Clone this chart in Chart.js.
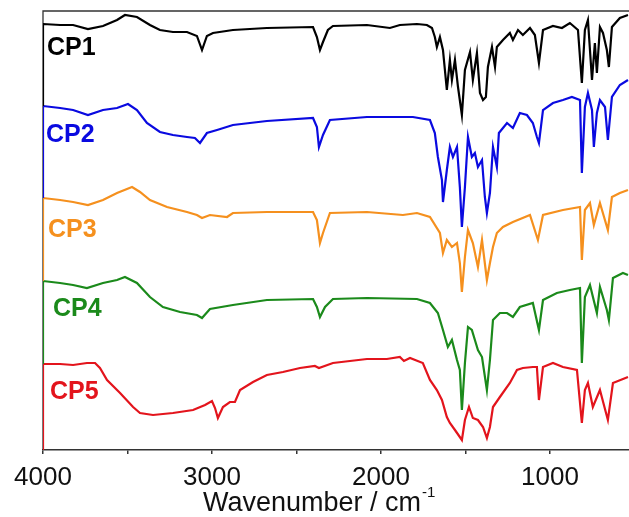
<!DOCTYPE html>
<html>
<head>
<meta charset="utf-8">
<script src="https://cdn.jsdelivr.net/npm/chart.js@4.4.1/dist/chart.umd.min.js"></script>
<style>
  html, body { margin: 0; padding: 0; background: #fff; }
  #wrap { position: relative; width: 629px; height: 517px; }
</style>
</head>
<body>
<div id="wrap"><canvas id="ftir"></canvas></div>
<script>
// ===== Spectra (offset traces, arbitrary units) =====
// each trace starts with a short drop at 4000 down to the next trace's level
const seriesNames = ['CP1', 'CP2', 'CP3', 'CP4', 'CP5'];
const seriesColors = ['#000000', '#0a0ae0', '#f5901e', '#1b8a1b', '#e3141c'];

const cp1Wn = [4000, 4000, 3899, 3822, 3734, 3645, 3562, 3515, 3444, 3367, 3308, 3231, 3148, 3089, 3059, 3030, 2994, 2876, 2675, 2402, 2379, 2361, 2343, 2314, 2284, 2083, 1947, 1888, 1787, 1728, 1698, 1681, 1669, 1651, 1633, 1610, 1592, 1580, 1562, 1544, 1521, 1503, 1473, 1456, 1432, 1414, 1396, 1379, 1367, 1343, 1325, 1314, 1278, 1237, 1219, 1189, 1160, 1118, 1089, 1065, 1041, 982, 929, 882, 834, 811, 793, 775, 751, 734, 722, 704, 686, 663, 651, 633, 586, 538];
const cp1T = [344, 426, 425, 425, 421, 424, 430, 435, 433, 425, 420, 418, 418, 414, 400, 414, 417, 420, 422, 423, 413, 400, 408, 420, 424, 425, 422, 425, 426, 425, 422, 413, 403, 413, 400, 360, 390, 370, 390, 363, 335, 380, 398, 370, 397, 357, 350, 353, 383, 403, 383, 403, 410, 417, 410, 420, 415, 422, 415, 387, 420, 424, 422, 427, 420, 367, 420, 430, 370, 407, 377, 423, 417, 400, 383, 423, 432, 435];

const cp2Wn = [4000, 4000, 3899, 3822, 3734, 3645, 3562, 3497, 3444, 3385, 3308, 3231, 3148, 3101, 3071, 3030, 2970, 2876, 2675, 2402, 2379, 2367, 2343, 2302, 2083, 1811, 1710, 1681, 1663, 1639, 1633, 1610, 1592, 1574, 1550, 1533, 1521, 1503, 1485, 1462, 1444, 1426, 1402, 1385, 1373, 1355, 1337, 1314, 1302, 1254, 1219, 1178, 1136, 1101, 1077, 1065, 1041, 982, 923, 870, 822, 811, 793, 775, 751, 740, 722, 704, 674, 657, 633, 586, 538];
const cp2T = [252, 344, 342, 340, 335, 340, 342, 346, 340, 327, 318, 315, 313, 312, 307, 317, 320, 325, 329, 332, 323, 303, 315, 330, 333, 333, 330, 317, 293, 270, 248, 280, 303, 293, 303, 263, 223, 263, 313, 293, 297, 283, 290, 253, 237, 257, 303, 283, 317, 327, 322, 337, 335, 327, 313, 307, 340, 347, 350, 353, 350, 277, 343, 357, 340, 303, 337, 350, 343, 310, 353, 365, 370];

const cp3Wn = [4000, 4000, 3899, 3822, 3734, 3645, 3562, 3473, 3426, 3367, 3266, 3148, 3089, 3059, 3012, 2911, 2876, 2675, 2402, 2379, 2361, 2343, 2302, 2083, 1870, 1787, 1710, 1651, 1633, 1610, 1580, 1550, 1533, 1521, 1503, 1485, 1456, 1426, 1402, 1373, 1355, 1337, 1314, 1278, 1219, 1118, 1071, 1041, 923, 822, 811, 793, 763, 740, 704, 657, 633, 586, 538];
const cp3T = [169, 252, 250, 248, 245, 250, 257, 263, 258, 250, 243, 238, 235, 232, 235, 233, 237, 238, 238, 230, 207, 217, 237, 238, 235, 237, 233, 217, 197, 210, 203, 207, 187, 158, 193, 220, 207, 183, 210, 170, 187, 203, 217, 223, 228, 235, 210, 235, 240, 243, 190, 240, 247, 225, 247, 220, 253, 257, 260];

const cp4Wn = [4000, 4000, 3899, 3822, 3740, 3645, 3562, 3515, 3444, 3367, 3290, 3189, 3089, 3059, 3012, 2876, 2675, 2402, 2379, 2361, 2331, 2284, 2083, 1787, 1710, 1663, 1633, 1604, 1580, 1550, 1533, 1521, 1503, 1485, 1462, 1444, 1426, 1402, 1373, 1355, 1337, 1296, 1254, 1219, 1178, 1101, 1065, 1041, 959, 882, 822, 811, 793, 763, 722, 704, 663, 651, 627, 568, 538];
const cp4T = [86, 169, 167, 165, 162, 167, 170, 173, 167, 153, 143, 138, 135, 132, 141, 145, 150, 151, 143, 133, 143, 151, 152, 151, 147, 137, 120, 103, 110, 90, 80, 40, 87, 123, 120, 110, 100, 93, 60, 90, 130, 137, 137, 133, 143, 147, 120, 150, 157, 160, 162, 87, 153, 165, 137, 163, 140, 130, 172, 177, 175];

const cp5Wn = [4000, 4000, 3899, 3822, 3740, 3692, 3663, 3621, 3544, 3467, 3426, 3349, 3231, 3112, 3041, 3000, 2982, 2965, 2935, 2894, 2864, 2834, 2757, 2675, 2580, 2479, 2391, 2367, 2284, 2083, 1965, 1888, 1864, 1828, 1752, 1710, 1669, 1639, 1610, 1592, 1562, 1521, 1503, 1479, 1456, 1426, 1396, 1373, 1355, 1337, 1296, 1237, 1195, 1160, 1101, 1077, 1065, 1041, 982, 923, 840, 811, 793, 775, 746, 704, 657, 627, 538];
const cp5T = [0, 86, 86, 85, 87, 87, 82, 70, 57, 43, 37, 35, 37, 40, 45, 49, 42, 32, 43, 48, 48, 60, 68, 75, 78, 82, 84, 82, 87, 91, 91, 93, 89, 92, 87, 70, 60, 50, 33, 27, 20, 10, 30, 43, 32, 30, 23, 12, 23, 43, 53, 67, 80, 82, 83, 83, 50, 83, 87, 83, 80, 27, 60, 67, 43, 60, 30, 67, 73];

const allWn = [cp1Wn, cp2Wn, cp3Wn, cp4Wn, cp5Wn];
const allT = [cp1T, cp2T, cp3T, cp4T, cp5T];

// x axis range and ticks (labels only on the thousands)
const wnMax = 4000;
const wnMin = 532;
const tickValues = [1000, 1500, 2000, 2500, 3000, 3500, 4000];
const tickLabels = ['1000', '', '2000', '', '3000', '', '4000'];

const axisTitle = 'Wavenumber / cm';
const axisTitleSup = '-1';

// where the CP labels sit, relative to the plot frame (px)
const tagPos = [[4, 37], [3, 124], [5, 219], [10, 298], [7, 381]];

const axisColor = '#333333';
const fontFamily = '"Liberation Sans", Arial, Helvetica, sans-serif';

// ===== Frame, axis title and series labels =====
const framePlugin = {
    id: 'frame',
    beforeDatasetsDraw(chart) {
        const { ctx, chartArea } = chart;
        ctx.save();
        ctx.strokeStyle = axisColor;
        ctx.lineWidth = 1.3;
        ctx.beginPath();
        ctx.moveTo(chartArea.left, chartArea.bottom);
        ctx.lineTo(chartArea.left, chartArea.top);
        ctx.lineTo(chartArea.right, chartArea.top);
        ctx.stroke();
        ctx.restore();
    },
    afterDatasetsDraw(chart) {
        const { ctx, chartArea } = chart;
        ctx.save();
        ctx.font = 'bold 25px ' + fontFamily;
        ctx.textAlign = 'left';
        ctx.textBaseline = 'middle';
        seriesNames.forEach((name, i) => {
            ctx.fillStyle = seriesColors[i];
            ctx.fillText(name, chartArea.left + tagPos[i][0], chartArea.top + tagPos[i][1]);
        });

        // x axis title with a raised exponent
        ctx.fillStyle = '#111';
        ctx.textBaseline = 'alphabetic';
        ctx.font = '27px ' + fontFamily;
        const x0 = 203, base = 511;
        ctx.fillText(axisTitle, x0, base);
        const w = ctx.measureText(axisTitle).width;
        ctx.font = '15px ' + fontFamily;
        ctx.fillText(axisTitleSup, x0 + w + 1, base - 14);
        ctx.restore();
    }
};

function initChart() {
    const ctx = document.getElementById('ftir');

    const datasets = seriesNames.map((name, i) => ({
        label: name,
        data: allWn[i].map((w, j) => ({ x: w, y: allT[i][j] })),
        borderColor: seriesColors[i],
        borderWidth: 2.2,
        pointRadius: 0,
        tension: 0,
        fill: false
    }));

    new Chart(ctx, {
        type: 'line',
        data: { datasets: datasets },
        options: {
            responsive: true,
            maintainAspectRatio: false,
            animation: false,
            layout: { padding: { left: 43, top: 11, right: 0, bottom: 0 } },
            plugins: {
                legend: { display: false },
                tooltip: { enabled: false }
            },
            scales: {
                x: {
                    type: 'linear',
                    reverse: true,
                    min: wnMin,
                    max: wnMax,
                    afterBuildTicks: function(scale) {
                        scale.ticks = tickValues.map(v => ({ value: v }));
                    },
                    afterFit: function(scale) {
                        // fixed axis band under the plot, no side padding
                        scale.height = 67;
                        scale.paddingLeft = 0;
                        scale.paddingRight = 0;
                    },
                    border: { color: axisColor, width: 1.5 },
                    grid: {
                        drawOnChartArea: false,
                        drawTicks: true,
                        tickLength: 4,
                        color: axisColor,
                        lineWidth: 1.5
                    },
                    ticks: {
                        autoSkip: false,
                        maxRotation: 0,
                        padding: 11,
                        color: '#111',
                        font: { family: fontFamily, size: 26, lineHeight: 1 },
                        callback: function(value, index) {
                            return tickLabels[index];
                        }
                    },
                    title: { display: false }
                },
                y: {
                    display: false,
                    min: 0,
                    max: 439
                }
            }
        },
        plugins: [framePlugin]
    });
}

document.addEventListener('DOMContentLoaded', initChart);
</script>
</body>
</html>
